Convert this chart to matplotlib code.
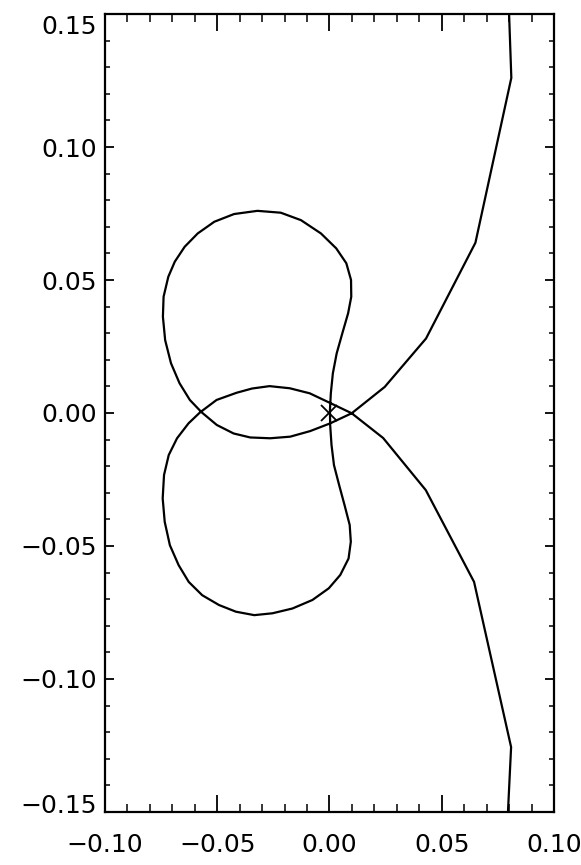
import matplotlib
matplotlib.use("Agg")
import matplotlib.pyplot as plt
import matplotlib.transforms as mtransforms
from matplotlib.ticker import MultipleLocator, FixedLocator

plt.rcParams['font.family'] = ['DejaVu Sans']

# Trajectory (single continuous curve)
traj_x = [0.0800, 0.0810, 0.0650, 0.0430, 0.0246, 0.0099, 0.0003, -0.0086,
          -0.0175, -0.0264, -0.0353, -0.0427, -0.0502, -0.0570,
          -0.0622, -0.0668, -0.0706, -0.0732, -0.0742, -0.0739, -0.0718,
          -0.0689, -0.0645, -0.0587, -0.0513, -0.0425, -0.0321, -0.0217,
          -0.0127, -0.0038, 0.0030, 0.0075, 0.0096, 0.0097, 0.0083, 0.0057,
          0.0032, 0.0015, 0.0006, 0.0002, 0.0003, 0.0009, 0.0020, 0.0043,
          0.0067, 0.0090, 0.0095, 0.0085, 0.0048, -0.0003, -0.0076, -0.0165,
          -0.0254, -0.0335, -0.0417, -0.0492, -0.0567, -0.0627, -0.0672,
          -0.0711, -0.0734, -0.0743, -0.0737, -0.0716, -0.0679, -0.0628,
          -0.0577, -0.0503, -0.0414, -0.0345, -0.0267, -0.0177, -0.0088,
          0.0002, 0.0099, 0.0239, 0.0429, 0.0644, 0.0809, 0.0795]
traj_y = [0.1500, 0.1260, 0.0640, 0.0280, 0.0098, -0.0001, -0.0039, -0.0068,
          -0.0089, -0.0095, -0.0092, -0.0077, -0.0045, 0.0003,
          0.0049, 0.0112, 0.0187, 0.0274, 0.0362, 0.0437, 0.0512,
          0.0569, 0.0625, 0.0675, 0.0719, 0.0748, 0.0760, 0.0753,
          0.0725, 0.0675, 0.0619, 0.0563, 0.0500, 0.0437, 0.0375, 0.0299,
          0.0224, 0.0149, 0.0074, 0.0011, -0.0045, -0.0120, -0.0196, -0.0271,
          -0.0346, -0.0421, -0.0484, -0.0547, -0.0609, -0.0659, -0.0703, -0.0735,
          -0.0753, -0.0760, -0.0747, -0.0722, -0.0685, -0.0635, -0.0572,
          -0.0497, -0.0409, -0.0321, -0.0233, -0.0158, -0.0095, -0.0039,
          0.0002, 0.0049, 0.0076, 0.0092, 0.0101, 0.0093, 0.0074,
          0.0038, -0.0001, -0.0094, -0.0290, -0.0635, -0.1256, -0.1500]

marker_x = [0.0]
marker_y = [0.0]

xticks = [-0.10, -0.05, 0.00, 0.05, 0.10]
yticks = [-0.15, -0.10, -0.05, 0.00, 0.05, 0.10, 0.15]

fig = plt.figure(figsize=(5.81, 8.65), dpi=100)
ax = fig.add_axes([0.1807, 0.0613, 0.7728, 0.9225])

ax.plot(traj_x, traj_y, color='black', lw=1.6, solid_joinstyle='round')
ax.plot(marker_x, marker_y, marker='x', color='black', ms=11, mew=1.3, ls='none')

ax.set_xlim(-0.10, 0.10)
ax.set_ylim(-0.15, 0.15)

ax.xaxis.set_major_locator(FixedLocator(xticks))
ax.yaxis.set_major_locator(FixedLocator(yticks))
ax.xaxis.set_minor_locator(MultipleLocator(0.01))
ax.yaxis.set_minor_locator(MultipleLocator(0.01))
ax.set_xticklabels([f"{v:.2f}".replace('-', '\u2212') for v in xticks])
ax.set_yticklabels([f"{v:.2f}".replace('-', '\u2212') for v in yticks])

ax.tick_params(axis='x', which='major', direction='in', length=12, width=1.3,
               top=True, bottom=True, labelsize=18, pad=15)
ax.tick_params(axis='x', which='minor', direction='in', length=6, width=1.1,
               top=True, bottom=True)
ax.tick_params(axis='y', which='major', direction='in', length=6.5, width=1.3,
               left=True, right=True, labelsize=18, pad=6)
ax.tick_params(axis='y', which='minor', direction='in', length=3.3, width=1.1,
               left=True, right=True)

for s in ax.spines.values():
    s.set_linewidth(1.6)

# shift end labels of y axis inward like the original
ylabels = ax.get_yticklabels()
ylabels[-1].set_transform(ylabels[-1].get_transform() +
                          mtransforms.ScaledTranslation(0, -10/100, fig.dpi_scale_trans))
ylabels[0].set_transform(ylabels[0].get_transform() +
                         mtransforms.ScaledTranslation(0, 8/100, fig.dpi_scale_trans))

fig.savefig("out.png", dpi=100)
